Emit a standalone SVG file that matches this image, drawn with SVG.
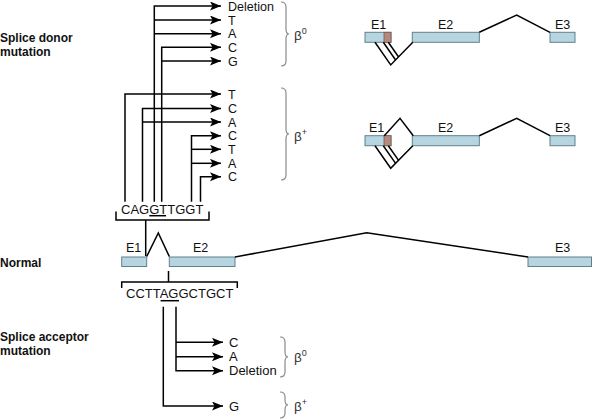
<svg xmlns="http://www.w3.org/2000/svg" width="592" height="420" viewBox="0 0 592 420">
<defs>
<marker id="ah" markerUnits="userSpaceOnUse" markerWidth="12" markerHeight="10" refX="11" refY="4.5" orient="auto">
<path d="M0,0 L11,4.5 L0,9 L2.5,4.5 z" fill="#000"/>
</marker>
</defs>
<style>
.ln{fill:none;stroke:#000;stroke-width:1.5}
.ar{fill:none;stroke:#000;stroke-width:1.5;marker-end:url(#ah)}
.ex{fill:#b6d5e1;stroke:#62808b;stroke-width:1}
.mut{fill:#b58a7e;stroke:#7a5a50;stroke-width:0.8}
.br{fill:none;stroke:#8a8a8a;stroke-width:1.2}
.t{font-family:"Liberation Sans",Arial,sans-serif;font-size:12.5px;fill:#111}
.s{font-family:"Liberation Sans",Arial,sans-serif;font-size:13px;fill:#111}
.e{font-family:"Liberation Sans",Arial,sans-serif;font-size:12.5px;fill:#111}
.b{font-family:"Liberation Sans",Arial,sans-serif;font-size:12px;font-weight:bold;fill:#111}
.g{font-family:"Liberation Sans",Arial,sans-serif;font-size:13.5px;fill:#333}
.sup{font-size:9px}
</style>

<g id="connectors">
<path class="ar" d="M154.3,201.7 V6 H221"/>
<path class="ar" d="M154.3,20 H221"/>
<path class="ar" d="M154.3,33.7 H221"/>
<path class="ar" d="M161.7,201.7 V47.3 H221"/>
<path class="ar" d="M161.7,61 H221"/>
<path class="ar" d="M125,201.7 V94 H221"/>
<path class="ar" d="M142.5,201.7 V108.5 H221"/>
<path class="ar" d="M142.5,122 H221"/>
<path class="ar" d="M191.5,201.7 V135.7 H221"/>
<path class="ar" d="M191.5,149.3 H221"/>
<path class="ar" d="M191.5,163.3 H221"/>
<path class="ar" d="M200.5,201.7 V176.7 H221"/>
<path class="ln" d="M145.7,220 V256"/>
<path class="ln" d="M168.5,271 V282"/>
<path class="ar" d="M163.3,306.7 V406 H223"/>
<path class="ar" d="M176,306.7 V370.7 H223"/>
<path class="ar" d="M176,342.3 H223"/>
<path class="ar" d="M176,356.7 H223"/>
</g>

<g id="labels-left">
<text class="b" x="0" y="42">Splice donor</text>
<text class="b" x="0" y="56">mutation</text>
<text class="b" x="0" y="267">Normal</text>
<text class="b" x="0" y="341">Splice acceptor</text>
<text class="b" x="0" y="355">mutation</text>
</g>

<g id="donor-beta0">
<text class="t" x="228" y="10.5">Deletion</text>
<text class="t" x="228" y="24.5">T</text>
<text class="t" x="228" y="38.2">A</text>
<text class="t" x="228" y="51.8">C</text>
<text class="t" x="228" y="65.5">G</text>
<path class="br" d="M281,2 Q286,2 286,7 L286,29 Q286,34 289,34 Q286,34 286,39 L286,61 Q286,66 281,66"/>
<text class="g" x="294" y="40">β<tspan class="sup" dy="-6">0</tspan></text>
</g>

<g id="donor-betaplus">
<text class="t" x="228" y="98.5">T</text>
<text class="t" x="228" y="113">C</text>
<text class="t" x="228" y="126.5">A</text>
<text class="t" x="228" y="140.2">C</text>
<text class="t" x="228" y="153.8">T</text>
<text class="t" x="228" y="167.8">A</text>
<text class="t" x="228" y="181.2">C</text>
<path class="br" d="M281,88 Q286,88 286,93 L286,129 Q286,134 289,134 Q286,134 286,139 L286,175 Q286,180 281,180"/>
<text class="g" x="294" y="141">β<tspan class="sup" dy="-6">+</tspan></text>
</g>

<g id="donor-sequence">
<text class="s" x="121" y="213.5">CAGGTTGGT</text>
<path class="ln" d="M149.3,215.7 H166"/>
<path class="ln" d="M116,211.5 V220 H209 V211.5"/>
</g>

<g id="normal-gene">
<text class="e" x="126" y="252">E1</text>
<text class="e" x="193" y="252">E2</text>
<text class="e" x="555" y="252">E3</text>
<rect class="ex" x="121.7" y="257" width="25" height="9.5"/>
<rect class="ex" x="169.3" y="257" width="65.7" height="9.5"/>
<rect class="ex" x="528" y="257" width="63.5" height="9.5"/>
<path class="ln" d="M146.7,256.5 L158.3,233 L169.3,256.5"/>
<path class="ln" d="M235,257 L366.7,232.7 L528,257"/>
</g>

<g id="acceptor-sequence">
<path class="ln" d="M121.7,288 V282 H237.3 V288"/>
<text class="s" x="126" y="298">CCTTAGGCTGCT</text>
<path class="ln" d="M160.6,300.7 H179"/>
</g>

<g id="acceptor-beta0">
<text class="s" x="229" y="346.8">C</text>
<text class="s" x="229" y="361.2">A</text>
<text class="s" x="229" y="375.2">Deletion</text>
<path class="br" d="M280,337 Q285,337 285,342 L285,352 Q285,357 288,357 Q285,357 285,362 L285,372 Q285,377 280,377"/>
<text class="g" x="294" y="362">β<tspan class="sup" dy="-6">0</tspan></text>
</g>

<g id="acceptor-betaplus">
<text class="s" x="229" y="410.5">G</text>
<path class="br" d="M280,392 Q285,392 285,397 L285,400 Q285,405 288,405 Q285,405 285,410 L285,413 Q285,418 280,418"/>
<text class="g" x="294" y="411">β<tspan class="sup" dy="-6">+</tspan></text>
</g>

<g id="splice-beta0">
<text class="e" x="371" y="28.5">E1</text>
<text class="e" x="438" y="28.5">E2</text>
<text class="e" x="555" y="28.5">E3</text>
<rect class="ex" x="365" y="32.3" width="26" height="10"/>
<rect class="mut" x="384" y="32.3" width="7" height="10"/>
<rect class="ex" x="412.3" y="32.3" width="67" height="10"/>
<rect class="ex" x="550" y="32.3" width="25" height="10"/>
<path class="ln" d="M479.3,32.3 L516.7,15 L550,32.3"/>
<path class="ln" d="M375,42.3 L390.7,64.9 L412.8,42.3"/>
<path class="ln" d="M383.3,42.3 L395.6,60"/>
<path class="ln" d="M388.3,42.3 L398.6,57"/>
</g>

<g id="splice-betaplus">
<text class="e" x="369" y="131.7">E1</text>
<text class="e" x="438" y="131.7">E2</text>
<text class="e" x="555" y="131.7">E3</text>
<rect class="ex" x="365" y="135.7" width="26" height="10"/>
<rect class="mut" x="384" y="135.7" width="7" height="10"/>
<rect class="ex" x="412.3" y="135.7" width="67" height="10"/>
<rect class="ex" x="550" y="135.7" width="25" height="10"/>
<path class="ln" d="M479.3,135.7 L516.7,118.3 L550,135.7"/>
<path class="ln" d="M384.3,135.7 L400,118.3 L413.3,135.7"/>
<path class="ln" d="M375,145.7 L390.7,168.3 L412.8,145.7"/>
<path class="ln" d="M383.3,145.7 L395.6,163.4"/>
<path class="ln" d="M388.3,145.7 L398.6,160.4"/>
</g>
</svg>
